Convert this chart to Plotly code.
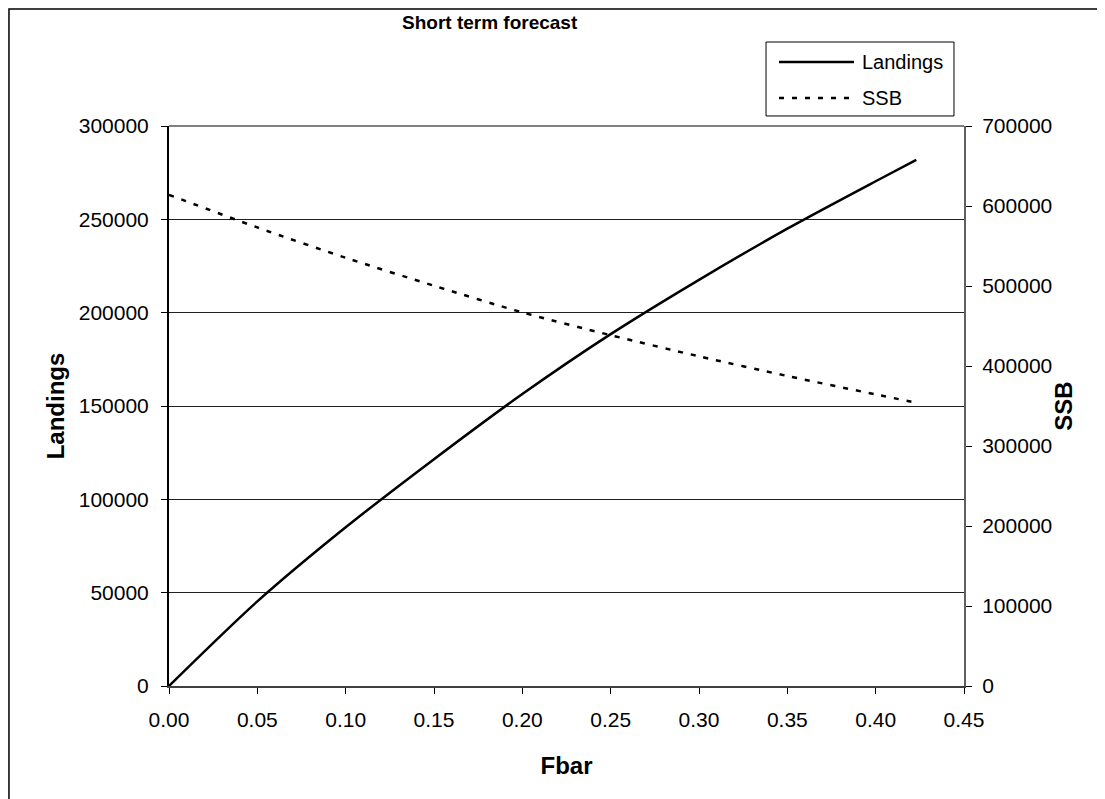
import plotly.graph_objects as go

# Fbar values and forecast results
fbar = [0.00, 0.05, 0.10, 0.15, 0.20, 0.25, 0.30, 0.35, 0.40, 0.423]
landings = [0, 45300, 85000, 121500, 156400, 188500, 217600, 245000, 270400, 281800]
ssb = [614000, 573200, 535300, 500300, 467000, 438500, 412100, 387500, 364500, 354100]

x_ticks = [0.00, 0.05, 0.10, 0.15, 0.20, 0.25, 0.30, 0.35, 0.40, 0.45]
series_names = ["Landings", "SSB"]

font_family = "Liberation Sans, Arial, sans-serif"
ssb_dash = "5px,8px"

fig = go.Figure()

fig.add_trace(go.Scatter(
    x = fbar,
    y = landings,
    name = series_names[0],
    mode = "lines",
    line = dict(color = "black", width = 2.5, shape = "spline", smoothing = 0.8),
    showlegend = False,
))

fig.add_trace(go.Scatter(
    x = fbar,
    y = ssb,
    name = series_names[1],
    mode = "lines",
    line = dict(color = "black", width = 2.5, dash = ssb_dash, shape = "spline", smoothing = 0.8),
    yaxis = "y2",
    showlegend = False,
))

# legend drawn by hand (Excel style: long line keys, boxed)
legend_shapes = [
    dict(type = "rect", xref = "paper", yref = "paper",
         x0 = 0.751, x1 = 0.9874, y0 = 1.0179, y1 = 1.15,
         line = dict(color = "black", width = 1), fillcolor = "white", layer = "above"),
    dict(type = "line", xref = "paper", yref = "paper",
         x0 = 0.7673, x1 = 0.8616, y0 = 1.1143, y1 = 1.1143,
         line = dict(color = "black", width = 2.5), layer = "above"),
    dict(type = "line", xref = "paper", yref = "paper",
         x0 = 0.7673, x1 = 0.8616, y0 = 1.05, y1 = 1.05,
         line = dict(color = "black", width = 2.5, dash = ssb_dash), layer = "above"),
]
legend_labels = [
    dict(text = series_names[0], xref = "paper", yref = "paper",
         x = 0.8692, y = 1.1143, xanchor = "left", yanchor = "middle",
         showarrow = False, font = dict(size = 20)),
    dict(text = series_names[1], xref = "paper", yref = "paper",
         x = 0.8692, y = 1.05, xanchor = "left", yanchor = "middle",
         showarrow = False, font = dict(size = 20)),
]

fig.update_layout(
    width = 1097,
    height = 791,
    margin = dict(l = 161, r = 141, t = 118, b = 113),
    plot_bgcolor = "white",
    paper_bgcolor = "white",
    font = dict(family = font_family, size = 21, color = "black"),
    annotations = [dict(
        text = "<b>Short term forecast</b>",
        xref = "paper", yref = "paper",
        x = 0.404, y = 1.1857,
        xanchor = "center", yanchor = "middle",
        showarrow = False,
        font = dict(size = 19),
    )] + legend_labels,
    shapes = [dict(
        type = "rect", xref = "paper", yref = "paper",
        x0 = -0.2013, x1 = 1.1761, y0 = -0.205, y1 = 1.2089,
        line = dict(color = "black", width = 1.5),
    ),
    dict(type = "line", xref = "paper", yref = "paper",
         x0 = 0, x1 = 1, y0 = 1, y1 = 1,
         line = dict(color = "#808080", width = 2))] + legend_shapes,
)

fig.update_xaxes(
    range = [0, 0.45],
    tickvals = x_ticks,
    tickformat = ".2f",
    ticks = "outside", ticklen = 6, tickcolor = "black",
    ticklabelstandoff = 8,
    showline = True, linecolor = "#404040", linewidth = 2,
    showgrid = False, zeroline = False,
    title = dict(text = "<b>Fbar</b>", font = dict(size = 24), standoff = 27),
)

fig.update_layout(
    yaxis = dict(
        range = [0, 300000],
        dtick = 50000,
        tickformat = "d",
        ticks = "outside", ticklen = 6, tickcolor = "black",
        ticklabelstandoff = 8,
        showline = True, linecolor = "black", linewidth = 2,
        showgrid = True, gridcolor = "#202020", gridwidth = 1,
        zeroline = False,
        title = dict(text = "<b>Landings</b>", font = dict(size = 24), standoff = 7),
    ),
    yaxis2 = dict(
        range = [0, 700000],
        dtick = 100000,
        tickformat = "d",
        overlaying = "y",
        side = "right",
        ticks = "outside", ticklen = 6, tickcolor = "black",
        ticklabelstandoff = 6,
        showline = True, linecolor = "#606060", linewidth = 2,
        showgrid = False, zeroline = False,
        title = dict(text = "<b>SSB</b>", font = dict(size = 24), standoff = 4),
    ),
)

fig.write_html("out.html")
